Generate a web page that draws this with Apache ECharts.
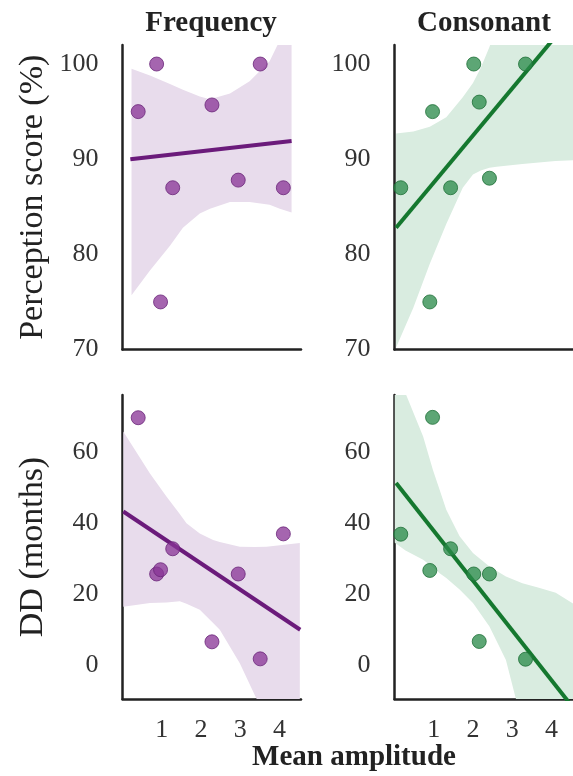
<!DOCTYPE html>
<html>
<head>
<meta charset="utf-8">
<script src="https://cdn.jsdelivr.net/npm/echarts@6/dist/echarts.min.js"></script>
<style>
html,body{margin:0;padding:0;background:#fff;}
#chart{width:573px;height:776px;}
</style>
</head>
<body>
<div id="chart"></div>
<script>
// ---- data ----
const panelTitles = ['Frequency', 'Consonant'];
const xAxisTitle = 'Mean amplitude';
const yTitles = ['Perception score (%)', 'DD (months)'];

const ampTicks = [1, 2, 3, 4];
const percTicks = [70, 80, 90, 100];
const ddTicks = [0, 20, 40, 60];

// Frequency: mean amplitude per subject
const ampFreq = [0.40, 0.87, 0.97, 1.28, 2.28, 2.95, 3.51, 4.10];
const percFreq = [95, 100, 75, 87, 95.7, 87.8, 100, 87];
const ddFreq = [69.6, 25.6, 26.8, 32.7, 6.5, 25.6, 1.7, 36.9];

// Consonant: mean amplitude per subject
const ampCons = [0.16, 0.90, 0.97, 1.43, 2.02, 2.16, 2.42, 3.34];
const percCons = [87, 75, 95, 87, 100, 96, 88, 100];
const ddCons = [36.8, 26.6, 69.7, 32.7, 25.6, 6.6, 25.6, 1.6];

// regression lines (end points)
const fitFreqPercX = [0.20, 4.31];
const fitFreqPercY = [90.0, 91.9];
const fitConsPercX = [0.04, 4.55];
const fitConsPercY = [82.8, 105.1];
const fitFreqDDX = [0.02, 4.53];
const fitFreqDDY = [43.2, 9.9];
const fitConsDDX = [0.04, 4.55];
const fitConsDDY = [51.2, -12.0];

// confidence bands
const bandFreqPercX = [0.23, 0.70, 1.21, 1.54, 1.97, 2.23, 2.74, 3.24, 3.75, 4.01, 4.31];
const bandFreqPercLo = [75.7, 78.3, 80.9, 82.8, 84.3, 84.8, 85.5, 85.5, 85.2, 84.8, 84.4];
const bandFreqPercHi = [99.5, 98.8, 97.9, 97.3, 96.6, 96.3, 96.9, 98.2, 100.3, 102.5, 106];

const bandConsPercX = [0.04, 0.48, 0.90, 1.32, 1.74, 2.00, 2.20, 2.42, 2.60, 3.26, 4.10, 4.55];
const bandConsPercLo = [70.2, 74.4, 79.0, 83.2, 87.0, 88.4, 88.8, 89.1, 89.2, 89.5, 89.8, 89.9];
const bandConsPercHi = [92.7, 92.9, 93.4, 94.4, 96.5, 98.0, 99.6, 101.8, 104, 110, 115, 118];

const bandFreqDDX = [0.02, 0.70, 1.12, 1.46, 1.63, 1.97, 2.31, 2.48, 2.99, 3.37, 3.67, 4.52];
const bandFreqDDLo = [16.4, 17.4, 17.6, 17.9, 17.2, 15.5, 11.8, 9.9, 0.5, -8.5, -15, -40];
const bandFreqDDHi = [65.7, 53.9, 47.4, 42.5, 39.9, 37.0, 35.2, 34.6, 33.3, 33.2, 33.3, 34.3];

const bandConsDDX = [0.0, 0.28, 0.73, 0.98, 1.15, 1.32, 1.57, 1.66, 2.00, 2.42, 2.84, 3.09, 3.26, 3.68, 4.11, 4.55];
const bandConsDDLo = [34.5, 32.2, 29.6, 27.5, 25.8, 24.5, 22.1, 21.2, 17.4, 10.8, 1.4, -9.4, -14, -25, -35, -45];
const bandConsDDHi = [82, 76.5, 64.3, 54.9, 49.3, 43.7, 38.2, 36.2, 31.5, 27.7, 24.9, 23.8, 23.0, 21.7, 20.3, 17.3];

// ---- styles ----
const FONT = 'Liberation Serif, Times New Roman, serif';
const purple = {pt: 'rgba(137,52,150,0.95)', edge: '#6a2679', line: '#6b1b7b', band: '#e8dcec'};
const green = {pt: 'rgba(42,138,74,0.95)', edge: '#1e6f37', line: '#15782f', band: '#d9ece0'};

const grids = [
  {left: 122.5, top: 45, width: 178.5, height: 304.5},
  {left: 394.5, top: 45, width: 178.5, height: 304.5},
  {left: 122.5, top: 395, width: 178.5, height: 304},
  {left: 394.5, top: 395, width: 178.5, height: 304}
];

function xAxis(i, showLabels) {
  return {
    type: 'value', gridIndex: i, min: 0, max: 4.55,
    axisLine: {show: true, onZero: false, lineStyle: {color: '#222', width: 2.5}},
    axisTick: {show: false},
    splitLine: {show: false},
    axisLabel: showLabels ? {
      show: true, customValues: ampTicks, margin: 18,
      fontFamily: FONT, fontSize: 26, color: '#333'
    } : {show: false}
  };
}
function yAxis(i, min, max, ticks, name) {
  const ax = {
    type: 'value', gridIndex: i, min: min, max: max,
    axisLine: {show: true, onZero: false, lineStyle: {color: '#222', width: 2.5}},
    axisTick: {show: false},
    splitLine: {show: false},
    axisLabel: {show: true, customValues: ticks, margin: 24,
      fontFamily: FONT, fontSize: 26, color: '#333'}
  };
  if (name) {
    ax.name = name;
    ax.nameLocation = 'middle';
    ax.nameRotate = 90;
    ax.nameGap = 72;
    ax.nameTextStyle = {fontFamily: FONT, fontSize: 34, color: '#222'};
  }
  return ax;
}

function bandSeries(i, bx, lo, hi, color) {
  const data = bx.map((x, k) => [x, lo[k], hi[k]]);
  return {
    type: 'custom', xAxisIndex: i, yAxisIndex: i, clip: true, silent: true, z: 1,
    data: data,
    encode: {x: 0, y: [1, 2]},
    renderItem: function (params, api) {
      if (params.dataIndex !== 0) return null;
      const pts = [];
      for (let k = 0; k < bx.length; k++) pts.push(api.coord([bx[k], hi[k]]));
      for (let k = bx.length - 1; k >= 0; k--) pts.push(api.coord([bx[k], lo[k]]));
      const cs = params.coordSys;
      return {
        type: 'polygon',
        shape: {points: pts},
        style: {fill: color, stroke: null},
        clipPath: {type: 'rect', shape: {x: cs.x, y: cs.y, width: cs.width, height: cs.height}}
      };
    }
  };
}
function lineSeries(i, xs, ys, color) {
  return {
    type: 'line', xAxisIndex: i, yAxisIndex: i, clip: true, silent: true, z: 3,
    data: xs.map((x, k) => [x, ys[k]]),
    symbol: 'none', lineStyle: {color: color, width: 4}
  };
}
function scatterSeries(i, xs, ys, c) {
  return {
    type: 'scatter', xAxisIndex: i, yAxisIndex: i, z: 4, silent: true, clip: false,
    data: xs.map((x, k) => [x, ys[k]]),
    symbolSize: 14,
    itemStyle: {color: c.pt, borderColor: c.edge, borderWidth: 1}
  };
}

const option = {
  animation: false,
  backgroundColor: '#fff',
  grid: grids,
  xAxis: [xAxis(0, false), xAxis(1, false), xAxis(2, true), xAxis(3, true)],
  yAxis: [
    yAxis(0, 70, 102, percTicks, yTitles[0]),
    yAxis(1, 70, 102, percTicks, null),
    yAxis(2, -9.6, 76, ddTicks, yTitles[1]),
    yAxis(3, -9.6, 76, ddTicks, null)
  ],
  series: [
    bandSeries(0, bandFreqPercX, bandFreqPercLo, bandFreqPercHi, purple.band),
    lineSeries(0, fitFreqPercX, fitFreqPercY, purple.line),
    scatterSeries(0, ampFreq, percFreq, purple),

    bandSeries(1, bandConsPercX, bandConsPercLo, bandConsPercHi, green.band),
    lineSeries(1, fitConsPercX, fitConsPercY, green.line),
    scatterSeries(1, ampCons, percCons, green),

    bandSeries(2, bandFreqDDX, bandFreqDDLo, bandFreqDDHi, purple.band),
    lineSeries(2, fitFreqDDX, fitFreqDDY, purple.line),
    scatterSeries(2, ampFreq, ddFreq, purple),

    bandSeries(3, bandConsDDX, bandConsDDLo, bandConsDDHi, green.band),
    lineSeries(3, fitConsDDX, fitConsDDY, green.line),
    scatterSeries(3, ampCons, ddCons, green)
  ],
  graphic: [
    {type: 'text', x: 211, y: 24, style: {text: panelTitles[0], fontFamily: FONT, fontSize: 29, fontWeight: 'bold', fill: '#222', align: 'center', verticalAlign: 'middle', textAlign: 'center', textVerticalAlign: 'middle'}},
    {type: 'text', x: 484, y: 24, style: {text: panelTitles[1], fontFamily: FONT, fontSize: 29, fontWeight: 'bold', fill: '#222', align: 'center', verticalAlign: 'middle', textAlign: 'center', textVerticalAlign: 'middle'}},
    {type: 'text', x: 354, y: 758, style: {text: xAxisTitle, fontFamily: FONT, fontSize: 29, fontWeight: 'bold', fill: '#222', align: 'center', verticalAlign: 'middle', textAlign: 'center', textVerticalAlign: 'middle'}}
  ]
};

const chart = echarts.init(document.getElementById('chart'), null, {renderer: 'canvas'});
chart.setOption(option);
</script>
</body>
</html>
